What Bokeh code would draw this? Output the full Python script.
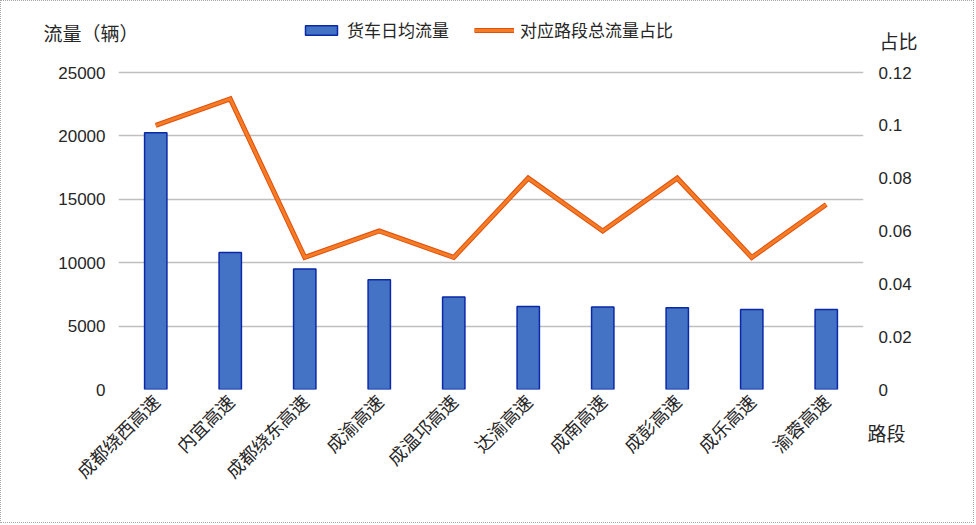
import math
from bokeh.plotting import figure
from bokeh.models import (FactorRange, Range1d, LinearAxis, FixedTicker, CustomJSTickFormatter,
                          Label, Legend, LegendItem, NumeralTickFormatter)
from bokeh.embed import file_html
from bokeh.resources import INLINE

categories = ["成都绕西高速", "内宜高速", "成都绕东高速", "成渝高速", "成温邛高速",
              "达渝高速", "成南高速", "成彭高速", "成乐高速", "渝蓉高速"]
daily_trucks = [20250, 10800, 9500, 8650, 7300, 6550, 6500, 6450, 6300, 6300]
ratio = [0.10, 0.11, 0.05, 0.06, 0.05, 0.08, 0.06, 0.08, 0.05, 0.07]
left_ticks = [0, 5000, 10000, 15000, 20000, 25000]
right_ticks = [0, 0.02, 0.04, 0.06, 0.08, 0.10, 0.12]

CJK = "Noto Sans CJK SC"
NUM = "Liberation Sans"
TXT = "#262626"

# frame: top at 6, bottom at 388 (figure px); 25000 / 0.12 must sit at 71
FT, FB, TOPTICK = 6, 388, 71
ext = (FB - FT) / (FB - TOPTICK)

p = figure(width=974, height=523, output_backend="svg", toolbar_location=None,
           x_range=FactorRange(*categories, range_padding=0),
           y_range=Range1d(0, 25000 * ext),
           min_border_left=117, min_border_right=112, min_border_top=FT,
           min_border_bottom=523 - FB, tools="")
p.styles = {"border": "1px dotted #a6a6a6"}
p.extra_y_ranges = {"ratio": Range1d(0, 0.12 * ext)}
p.outline_line_color = None
p.background_fill_color = "white"

p.yaxis.ticker = FixedTicker(ticks=left_ticks)
p.yaxis.formatter = NumeralTickFormatter(format="0")
p.yaxis.axis_line_color = None
p.yaxis.major_tick_line_color = None
p.yaxis.minor_tick_line_color = None
p.yaxis.major_tick_out = 0
p.yaxis.major_tick_in = 0
p.yaxis.minor_tick_out = 0
p.yaxis.major_label_text_font = NUM
p.yaxis.major_label_text_font_size = "17px"
p.yaxis.major_label_text_color = TXT
p.yaxis.major_label_standoff = 13

right = LinearAxis(y_range_name="ratio", ticker=FixedTicker(ticks=right_ticks),
                   formatter=CustomJSTickFormatter(code="return String(Math.round(tick*100)/100);"))
right.axis_line_color = None
right.major_tick_line_color = None
right.minor_tick_line_color = None
right.major_tick_out = 0
right.major_tick_in = 0
right.minor_tick_out = 0
right.major_label_text_font = NUM
right.major_label_text_font_size = "17px"
right.major_label_text_color = TXT
right.major_label_standoff = 15
p.add_layout(right, "right")

p.xaxis.axis_line_color = None
p.xaxis.major_tick_line_color = None
p.xaxis.minor_tick_line_color = None
p.xaxis.major_tick_out = 0
p.xaxis.major_tick_in = 0
p.xaxis.minor_tick_out = 0
p.xaxis.major_label_orientation = math.pi / 4
p.xaxis.major_label_text_font = CJK
p.xaxis.major_label_text_font_size = "18px"
p.xaxis.major_label_text_color = TXT
p.xaxis.major_label_standoff = 8

p.xgrid.grid_line_color = None
p.ygrid.ticker = FixedTicker(ticks=left_ticks)
p.ygrid.grid_line_color = "#bfbfbf"
p.ygrid.grid_line_width = 1.5

bars = p.vbar(x=categories, top=daily_trucks, width=0.3, fill_color="#4472C4",
              line_color="#0A28A8", line_width=1.5)
l_under = p.line(x=categories, y=ratio, y_range_name="ratio", line_color="#E0500F",
                 line_width=5, line_join="miter")
l_top = p.line(x=categories, y=ratio, y_range_name="ratio", line_color="#F47C24",
               line_width=3, line_join="miter")

legend = Legend(items=[LegendItem(label="货车日均流量", renderers=[bars]),
                       LegendItem(label="对应路段总流量占比", renderers=[l_under, l_top])],
                orientation="horizontal", location=(183, 347),
                glyph_width=40, glyph_height=12, label_standoff=6, spacing=25,
                padding=0, margin=0, border_line_color=None, background_fill_alpha=0,
                label_text_font=CJK, label_text_font_size="17px", label_text_color=TXT,
                label_height=14)
p.add_layout(legend, "center")

p.add_layout(Label(x=41, y=30, x_units="canvas", y_units="canvas", text="流量（辆）",
                   text_font=CJK, text_font_size="19px", text_color=TXT,
                   text_baseline="middle"), "below")
p.add_layout(Label(x=877, y=38, x_units="canvas", y_units="canvas", text="占比",
                   text_font=CJK, text_font_size="19px", text_color=TXT,
                   text_baseline="middle"), "right")
p.add_layout(Label(x=865, y=430, x_units="canvas", y_units="canvas", text="路段",
                   text_font=CJK, text_font_size="19px", text_color=TXT,
                   text_baseline="middle"), "left")

open("out.html", "w").write(file_html(p, INLINE))
